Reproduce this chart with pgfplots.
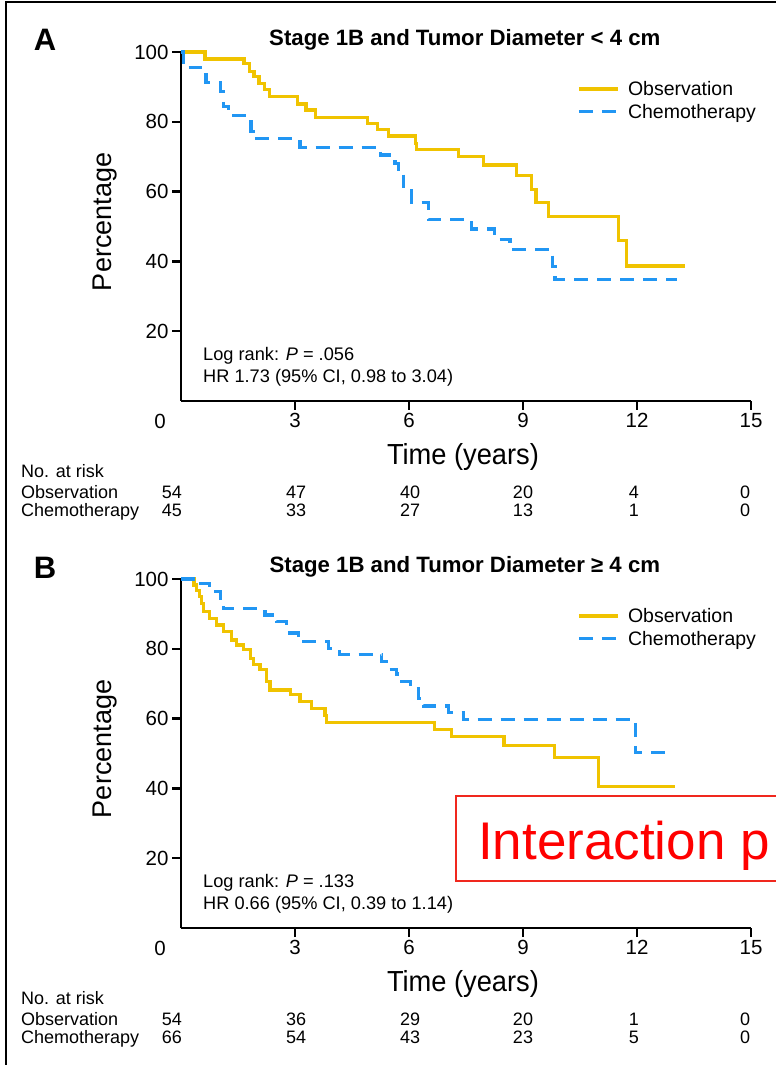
\documentclass[border=0pt]{standalone}
\usepackage{fontspec}
\setmainfont{Liberation Sans}
\usepackage{pgfplots}
\pgfplotsset{compat=1.18}
\usepackage{graphicx}

\definecolor{obs}{RGB}{240,195,0}
\definecolor{chemo}{RGB}{33,150,243}
\definecolor{redbox}{RGB}{240,40,30}
\newcommand{\fs}[1]{\fontsize{#1pt}{#1pt}\selectfont}
\newcommand{\risk}[3]{\node[anchor=base, inner sep=0pt, font=\fs{18}] at (axis description cs:#1,#2) {#3};}
\newcommand{\riskrow}[7]{\risk{-0.0158}{#1}{#2}\risk{0.2018}{#1}{#3}\risk{0.4018}{#1}{#4}\risk{0.6}{#1}{#5}\risk{0.7947}{#1}{#6}\risk{0.9895}{#1}{#7}}

\pgfplotsset{kmaxis/.style={
  scale only axis, width=570pt, height=349pt,
  xmin=0, xmax=15, ymin=0, ymax=100,
  axis lines=left, axis line style={-, line width=2.8pt, black},
  xtick={3,6,9,12,15}, ytick={20,40,60,80,100},
  tick align=outside, major tick length=9pt,
  tick style={line width=2.4pt, black},
  tick label style={font=\fs{20.5}},
  /pgf/number format/assume math mode=true,
  clip=false,
  ylabel={Percentage},
  ylabel style={at={(axis description cs:-0.134,0.513)}, anchor=center, font=\fs{27}},
  xlabel={\scalebox{0.94}[1]{Time (years)}},
  xlabel style={at={(axis description cs:0.4947,-0.1605)}, anchor=center, font=\fs{29}},
  every axis title shift=0pt,
  title style={at={(axis description cs:0.498,1.034)}, anchor=center, font=\bfseries\fs{22.2}},
  legend style={at={(0.695,0.921)}, anchor=north west, draw=none, fill=none,
    font=\fs{19.5}, inner sep=0pt, row sep=4pt, nodes={inner sep=1.5pt},
    /tikz/every odd column/.append style={column sep=7pt}},
  legend cell align=left,
  legend image code/.code={\draw[#1] (0pt,0pt) -- (39pt,0pt);},
}}
\pgfplotsset{
  obsline/.style={color=obs, line width=3.2pt, solid, mark=none, const plot},
  chemoline/.style={color=chemo, line width=3.2pt, dash pattern=on 14pt off 9pt, mark=none, const plot},
}

\begin{document}
\begin{tikzpicture}
% ---------------- Panel A ----------------
\begin{axis}[kmaxis, at={(181pt,664pt)}, anchor=south west,
  title={Stage 1B and Tumor Diameter < 4 cm}]
\addplot[obsline] coordinates {
(0,100) (0.63,98.0) (1.66,96.6) (1.80,94.4) (1.92,92.9) (2.05,91.0) (2.19,89.3)
(2.32,87.2) (3.06,85.1) (3.29,83.4) (3.54,81.3) (4.90,79.6) (5.17,77.7) (5.46,75.9)
(6.18,73.8) (6.20,72.1) (7.30,70.0) (7.96,67.6) (8.83,64.6) (9.23,60.7) (9.34,56.9)
(9.67,52.8) (11.51,46.1) (11.73,38.7) (13.26,38.7)};
\addlegendentry{Observation}
\addplot[chemoline] coordinates {
(0,100) (0.06,95.6) (0.52,93.4) (0.66,91.2) (1.03,88.6) (1.11,84.3) (1.25,81.7)
(1.84,77.2) (1.90,75.1) (3.13,72.7) (5.24,70.5) (5.63,68.1) (5.72,65.2) (5.85,61.4)
(6.07,56.9) (6.51,51.9) (7.65,49.3) (8.26,46.3) (8.66,43.3) (9.77,38.5) (9.84,34.7)
(13.04,34.7)};
\addlegendentry{Chemotherapy}
\node[font=\fs{20.5}] at (axis description cs:-0.0368,-0.0573) {0};
\node[font=\bfseries\fs{31}] at (axis description cs:-0.2386,1.034) {A};
\node[anchor=base west, inner sep=0pt, font=\fs{18.2}] at (axis cs:0.58,11.55) {Log rank: \textit{P} = .056};
\node[anchor=base west, inner sep=0pt, font=\fs{18.2}] at (axis cs:0.58,5.24) {HR 1.73 (95\% CI, 0.98 to 3.04)};
\node[anchor=base west, inner sep=0pt, font=\fs{18}] at (axis description cs:-0.2807,-0.2192) {No. at risk};
\node[anchor=base west, inner sep=0pt, font=\fs{18}] at (axis description cs:-0.2807,-0.2794) {Observation};
\node[anchor=base west, inner sep=0pt, font=\fs{18}] at (axis description cs:-0.2807,-0.3310) {Chemotherapy};
\riskrow{-0.2794}{54}{47}{40}{20}{4}{0}
\riskrow{-0.3310}{45}{33}{27}{13}{1}{0}
\end{axis}
% ---------------- Panel B ----------------
\begin{axis}[kmaxis, at={(181pt,137pt)}, anchor=south west,
  title={Stage 1B and Tumor Diameter ≥ 4 cm}]
\addplot[obsline] coordinates {
(0,100) (0.34,98.3) (0.41,96.7) (0.48,94.9) (0.54,93.0) (0.59,90.6) (0.76,88.7)
(0.94,86.8) (1.11,84.9) (1.33,82.5) (1.47,81.1) (1.64,79.7) (1.82,77.3) (1.90,75.4)
(2.08,74.0) (2.25,70.6) (2.34,68.2) (2.89,66.8) (3.13,65.0) (3.44,62.9) (3.79,61.0)
(3.82,58.8) (6.67,56.9) (7.12,54.8) (8.50,52.4) (9.82,48.9) (10.98,40.5) (13.0,40.5)};
\addlegendentry{Observation}
\addplot[chemoline] coordinates {
(0,100) (0.37,98.6) (0.76,96.4) (1.03,93.5) (1.11,91.5) (2.21,89.7) (2.52,87.8)
(2.78,84.5) (3.09,82.0) (3.88,80.0) (4.18,78.4) (5.28,76.3) (5.46,74.1) (5.68,72.8)
(5.81,70.6) (6.03,68.7) (6.25,65.8) (6.38,63.6) (7.03,61.8) (7.43,59.8) (11.95,50.2)
(12.87,50.2)};
\addlegendentry{Chemotherapy}
\node[font=\fs{20.5}] at (axis description cs:-0.0368,-0.0573) {0};
\node[font=\bfseries\fs{31}] at (axis description cs:-0.2386,1.032) {B};
\node[anchor=base west, inner sep=0pt, font=\fs{18.2}] at (axis cs:0.58,11.55) {Log rank: \textit{P} = .133};
\node[anchor=base west, inner sep=0pt, font=\fs{18.2}] at (axis cs:0.58,5.24) {HR 0.66 (95\% CI, 0.39 to 1.14)};
\node[anchor=base west, inner sep=0pt, font=\fs{18}] at (axis description cs:-0.2807,-0.2192) {No. at risk};
\node[anchor=base west, inner sep=0pt, font=\fs{18}] at (axis description cs:-0.2807,-0.2794) {Observation};
\node[anchor=base west, inner sep=0pt, font=\fs{18}] at (axis description cs:-0.2807,-0.3310) {Chemotherapy};
\riskrow{-0.2794}{54}{36}{29}{20}{1}{0}
\riskrow{-0.3310}{66}{54}{43}{23}{5}{0}
\end{axis}
% red annotation box (cut at the right edge as in the source)
\draw[redbox, line width=1.6pt, fill=white] (456pt,184pt) rectangle (800pt,269pt);
\node[anchor=base west, inner sep=0pt, text=red, font=\fs{53}] at (478pt,205pt) {Interaction p};
% frame lines of the source figure
\draw[line width=2.5pt] (6pt,0pt) -- (6pt,1063pt) -- (776pt,1063pt);
\pgfresetboundingbox
\useasboundingbox (0pt,0pt) rectangle (776pt,1065pt);
\end{tikzpicture}
\end{document}
